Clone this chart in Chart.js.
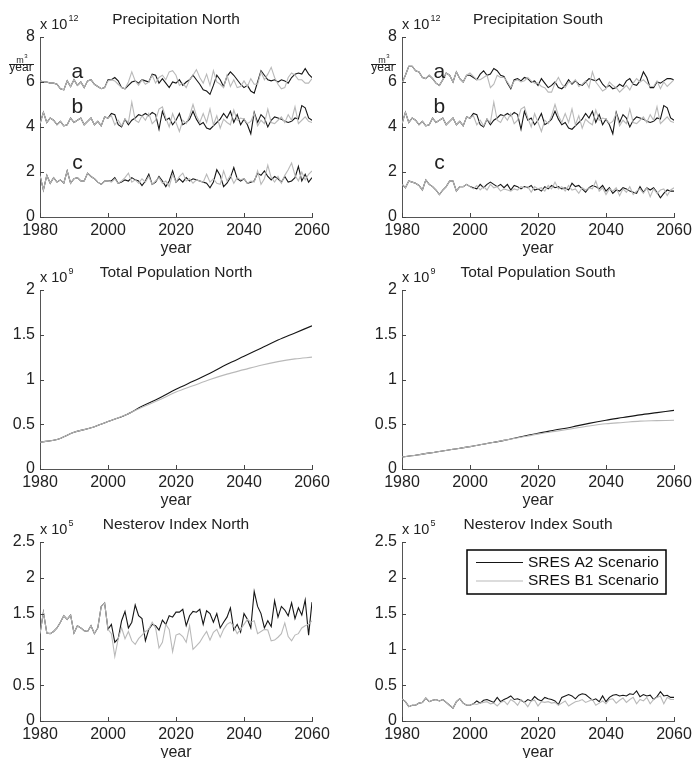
<!DOCTYPE html>
<html>
<head>
<meta charset="utf-8">
<script src="https://cdn.jsdelivr.net/npm/chart.js@4.4.1/dist/chart.umd.min.js"></script>
<style>
  html, body { margin: 0; padding: 0; background: #fff; overflow: hidden; }
  #fig { position: relative; width: 692px; height: 758px; overflow: hidden; }
  #fig canvas { position: absolute; }
</style>
</head>
<body>
<div id="fig"></div>
<script>
// ---- data (values in units of the axis multiplier: 1e12, 1e9, 1e5) ----
const years = [];
for (let y = 1980; y <= 2060; y++) years.push(y);
const popYears = [1980, 1985, 1990, 1995, 2000, 2005, 2010, 2015, 2020, 2025, 2030, 2035, 2040, 2045, 2050, 2055, 2060];

// precipitation, B1 = 1980..2060, A2 = 2000..2060 (A2 shares the B1 history before 2000)
const precipNorthA_B1 = [6.05,6.0,6.0,5.95,5.95,5.9,5.7,5.65,6.05,5.8,6.1,5.85,6.0,5.75,6.05,6.1,5.9,5.8,5.7,5.75,
  6.05,6.1,6.05,5.9,5.75,5.7,6.0,6.45,6.05,5.85,6.1,5.9,6.0,6.3,5.95,6.2,6.3,6.1,6.45,6.5,
  6.3,5.85,5.95,5.75,6.1,6.3,6.55,6.2,5.95,6.35,5.85,6.5,6.0,5.9,5.75,6.3,5.8,6.1,5.75,5.8,
  6.05,5.8,6.15,5.9,5.9,6.45,6.1,6.35,6.65,6.2,5.9,5.7,5.75,6.2,6.4,6.3,6.1,6.1,5.95,5.95,6.15];
const precipNorthA_A2 = [6.1,6.1,6.2,6.05,5.75,5.7,5.85,6.0,6.05,5.95,6.1,6.05,6.0,6.35,6.3,5.95,6.15,5.95,5.75,6.0,
  5.95,6.1,5.85,6.0,6.1,6.3,6.1,5.9,5.65,5.6,5.45,5.85,6.3,6.1,5.8,6.25,6.45,6.3,6.1,5.9,
  5.75,5.85,5.6,5.5,6.0,6.5,6.3,6.1,6.05,6.1,6.0,6.1,6.05,5.95,6.2,6.35,6.4,6.35,6.6,6.35,6.2];
const precipB_B1 = [4.15,4.65,4.2,4.4,4.3,4.1,4.25,4.05,4.1,4.4,4.2,4.3,4.4,4.1,4.25,4.4,4.1,4.25,4.05,4.45,
  4.4,4.5,4.1,4.3,4.05,4.35,4.2,5.1,4.3,4.2,4.5,4.3,4.6,4.15,4.3,4.8,4.9,4.4,4.0,4.6,
  4.2,3.8,4.3,4.15,4.5,5.0,4.5,4.2,4.6,4.2,4.8,4.1,4.5,3.95,4.35,4.2,4.1,4.75,4.3,4.4,
  4.35,4.15,4.25,4.6,4.05,4.3,4.15,4.8,4.2,4.15,4.3,4.45,4.2,4.55,4.3,4.9,4.15,4.3,4.45,4.25,4.2];
const precipB_A2 = [4.4,4.6,4.55,4.1,4.0,4.35,4.1,4.3,4.4,4.55,4.5,4.6,4.5,4.65,4.55,3.9,4.7,4.3,4.4,4.1,
  4.3,4.6,4.1,4.2,4.35,4.7,4.35,4.1,4.2,3.95,3.9,4.05,4.2,4.35,4.6,4.4,4.7,4.2,4.55,4.1,
  4.35,4.1,3.7,4.65,4.2,4.55,4.4,4.0,4.3,4.45,4.4,4.35,4.25,4.2,4.25,4.4,4.35,4.95,4.85,4.4,4.3];
const precipNorthC_B1 = [1.85,1.2,1.85,1.5,1.75,1.55,1.65,1.5,2.05,1.5,1.7,1.75,1.6,1.6,1.95,1.8,1.7,1.55,1.45,1.6,
  1.6,1.55,1.7,1.5,1.6,1.75,1.95,1.55,1.65,1.5,1.7,1.55,1.8,1.45,1.6,1.75,1.5,1.6,1.35,1.9,
  1.55,1.8,1.95,1.6,1.7,1.5,1.65,1.6,1.55,1.9,1.55,1.7,1.5,1.45,2.05,1.6,1.85,1.5,1.75,1.65,
  1.7,1.5,1.6,1.55,2.05,1.45,1.7,2.3,1.75,1.55,1.8,1.5,1.85,2.1,2.4,1.85,1.6,2.0,1.65,1.9,2.05];
const precipNorthC_A2 = [1.6,1.6,1.75,1.5,1.55,1.65,1.6,1.75,1.65,1.6,1.4,1.6,1.9,1.45,1.55,1.8,1.6,1.35,1.6,2.05,
  1.55,1.7,1.55,1.75,1.6,1.7,1.65,1.6,1.55,1.5,1.3,1.55,2.1,1.85,1.35,1.5,1.75,2.2,1.7,1.6,
  1.7,1.5,1.55,1.6,1.95,1.85,2.05,1.8,1.65,1.8,1.7,1.55,1.8,1.55,1.6,1.75,2.25,1.6,1.9,1.55,1.75];
const precipSouthA_B1 = [5.95,6.3,6.7,6.7,6.5,6.45,6.2,6.15,6.3,6.15,5.95,5.85,6.1,6.4,6.3,6.0,6.45,6.15,6.0,6.3,
  6.4,6.25,6.1,6.1,6.2,6.3,5.75,5.9,6.3,6.2,6.2,6.0,5.75,6.05,6.1,6.0,6.05,6.2,6.05,5.95,
  5.95,5.8,5.75,5.55,5.55,5.95,6.2,5.9,5.75,6.0,5.95,6.1,5.8,5.9,6.05,5.75,6.45,6.0,5.8,5.6,
  5.7,6.0,5.85,5.75,5.55,5.7,5.85,5.65,5.95,6.15,6.0,6.1,5.95,5.8,5.8,6.05,5.7,6.0,5.8,5.95,6.1];
const precipSouthA_A2 = [6.3,6.2,6.1,6.35,6.5,6.3,6.35,6.6,6.5,6.3,6.25,5.95,5.7,6.1,6.15,6.05,6.2,6.15,6.0,6.05,
  5.85,6.15,5.95,5.75,5.85,6.0,5.75,5.7,5.85,6.1,5.9,6.05,5.9,5.85,6.0,6.15,6.1,6.05,6.15,5.9,
  5.75,5.85,5.7,5.75,5.9,5.8,6.05,6.15,5.9,5.85,6.05,6.45,6.2,5.75,5.75,6.0,5.95,6.05,6.15,6.15,6.1];
const precipSouthC_B1 = [1.45,1.3,1.6,1.55,1.5,1.4,1.2,1.65,1.45,1.35,1.2,1.0,1.2,1.35,1.6,1.6,1.15,1.35,1.35,1.45,
  1.35,1.25,1.4,1.2,1.35,1.2,1.45,1.3,1.35,1.15,1.25,1.2,1.15,1.25,1.2,1.35,1.3,1.35,1.1,1.35,
  1.25,1.3,1.15,1.4,1.25,1.55,1.25,1.35,1.15,1.4,1.2,1.25,1.05,1.3,1.2,1.3,1.25,1.6,1.15,1.3,
  1.0,1.25,1.15,1.3,0.95,1.25,1.1,1.35,1.0,1.15,1.25,1.05,1.3,0.9,1.25,1.05,1.2,1.25,0.95,1.2,1.3];
const precipSouthC_A2 = [1.35,1.3,1.25,1.45,1.3,1.45,1.55,1.45,1.35,1.45,1.3,1.45,1.2,1.4,1.35,1.25,1.35,1.3,1.4,1.2,
  1.25,1.15,1.35,1.25,1.4,1.3,1.35,1.25,1.3,1.2,1.5,1.35,1.4,1.25,1.1,1.3,1.4,1.35,1.25,1.4,
  1.15,1.3,1.05,1.2,1.15,1.3,1.25,1.15,1.1,1.05,1.35,1.1,1.3,1.2,1.3,1.1,0.85,1.05,1.2,1.15,1.15];

// total population, every 5 years
const popNorthA2 = [0.30,0.33,0.41,0.46,0.53,0.60,0.70,0.79,0.89,0.98,1.07,1.17,1.26,1.35,1.44,1.52,1.60];
const popNorthB1 = [0.30,0.33,0.41,0.46,0.53,0.60,0.69,0.77,0.86,0.93,1.00,1.06,1.11,1.16,1.20,1.23,1.25];
const popSouthA2 = [0.135,0.16,0.19,0.22,0.25,0.285,0.32,0.36,0.40,0.435,0.47,0.51,0.545,0.575,0.605,0.63,0.655];
const popSouthB1 = [0.135,0.16,0.19,0.22,0.25,0.285,0.32,0.355,0.39,0.42,0.45,0.48,0.505,0.52,0.535,0.54,0.545];

// Nesterov index
const nestNorth_B1 = [1.22,1.52,1.23,1.22,1.25,1.3,1.38,1.47,1.42,1.48,1.23,1.33,1.3,1.26,1.25,1.33,1.22,1.3,1.6,1.65,
  1.28,1.22,0.9,1.15,1.3,1.15,1.25,1.12,1.07,1.15,1.2,1.25,1.28,1.38,1.3,1.02,1.1,1.35,1.28,0.97,
  1.2,1.22,1.18,1.1,1.33,1.0,1.05,1.1,1.18,1.25,1.13,1.24,1.28,1.17,1.28,1.35,1.38,1.32,1.22,1.28,
  1.35,1.42,1.38,1.4,1.22,1.25,1.28,1.27,1.12,1.13,1.17,1.22,1.37,1.18,1.12,1.2,1.22,1.3,1.33,1.35,1.4];
const nestNorth_A2 = [1.28,1.35,1.1,1.15,1.4,1.53,1.3,1.38,1.62,1.47,1.43,1.12,1.28,1.35,1.33,1.27,1.41,1.35,1.47,1.45,
  1.52,1.52,1.56,1.33,1.47,1.53,1.52,1.56,1.35,1.54,1.5,1.38,1.5,1.3,1.38,1.45,1.58,1.27,1.35,1.24,
  1.5,1.42,1.3,1.81,1.6,1.5,1.3,1.4,1.32,1.68,1.45,1.6,1.55,1.47,1.65,1.43,1.58,1.48,1.69,1.2,1.66];
const nestSouth_B1 = [0.31,0.27,0.2,0.22,0.22,0.25,0.26,0.32,0.27,0.29,0.3,0.28,0.3,0.26,0.22,0.18,0.27,0.31,0.25,0.22,
  0.22,0.24,0.23,0.25,0.26,0.27,0.24,0.25,0.21,0.26,0.28,0.23,0.3,0.27,0.22,0.3,0.26,0.2,0.28,0.29,
  0.21,0.27,0.26,0.27,0.25,0.26,0.22,0.25,0.28,0.21,0.24,0.27,0.28,0.3,0.26,0.28,0.3,0.22,0.25,0.28,
  0.24,0.3,0.31,0.25,0.29,0.32,0.26,0.3,0.33,0.24,0.3,0.28,0.33,0.24,0.3,0.33,0.35,0.24,0.33,0.3,0.3];
const nestSouth_A2 = [0.22,0.24,0.28,0.25,0.29,0.3,0.28,0.26,0.33,0.27,0.3,0.32,0.35,0.3,0.31,0.29,0.26,0.3,0.28,0.34,
  0.3,0.28,0.33,0.31,0.3,0.28,0.23,0.33,0.35,0.37,0.35,0.31,0.36,0.38,0.37,0.33,0.29,0.31,0.27,0.35,
  0.27,0.33,0.36,0.37,0.35,0.36,0.35,0.38,0.37,0.42,0.34,0.37,0.35,0.36,0.3,0.34,0.41,0.35,0.36,0.33,0.33];

const xTicks = [1980, 2000, 2020, 2040, 2060];
const seriesLabels = ['SRES A2 Scenario', 'SRES B1 Scenario'];

// ---- styling ----
const FONT = "'Liberation Sans', Arial, Helvetica, sans-serif";
Chart.defaults.font.family = FONT;
Chart.defaults.color = '#222';
const A2_COLOR = '#151515';
const B1_COLOR = '#b9b9b9';

const pts = (xs, vals) => vals.map((v, i) => ({x: xs[i], y: v}));
const withHistory = (b1, a2) => b1.slice(0, 20).concat(a2);

function annualPair(b1, a2) {
  return [
    {label: seriesLabels[0], data: pts(years, withHistory(b1, a2)), borderColor: A2_COLOR, order: 1},
    {label: seriesLabels[1], data: pts(years, b1), borderColor: B1_COLOR, order: 0}
  ];
}
function smoothPair(a2, b1) {
  return [
    {label: seriesLabels[0], data: pts(popYears, a2), borderColor: A2_COLOR, order: 1, cubicInterpolationMode: 'monotone'},
    {label: seriesLabels[1], data: pts(popYears, b1), borderColor: B1_COLOR, order: 0, cubicInterpolationMode: 'monotone'}
  ];
}

// canvas placement; the right column canvas runs past the page edge so "2060" does not squeeze the plot
const COLS = [{left: 0, width: 346, axisW: 40, padR: 34}, {left: 346, width: 370, axisW: 56, padR: 42}];
const ROWS = [{top: 37, bottom: 217}, {top: 290, bottom: 469}, {top: 542, bottom: 721}];
const TITLE_H = 37, XAXIS_H = 43;

const panels = [
  {title: 'Precipitation North', col: 0, row: 0, yMax: 8, yStep: 2, exp: '12', unit: true, letters: true,
   sets: [...annualPair(precipNorthA_B1, precipNorthA_A2), ...annualPair(precipB_B1, precipB_A2), ...annualPair(precipNorthC_B1, precipNorthC_A2)]},
  {title: 'Precipitation South', col: 1, row: 0, yMax: 8, yStep: 2, exp: '12', unit: true, letters: true,
   sets: [...annualPair(precipSouthA_B1, precipSouthA_A2), ...annualPair(precipB_B1, precipB_A2), ...annualPair(precipSouthC_B1, precipSouthC_A2)]},
  {title: 'Total Population North', col: 0, row: 1, yMax: 2, yStep: 0.5, exp: '9', sets: smoothPair(popNorthA2, popNorthB1)},
  {title: 'Total Population South', col: 1, row: 1, yMax: 2, yStep: 0.5, exp: '9', sets: smoothPair(popSouthA2, popSouthB1)},
  {title: 'Nesterov Index North', col: 0, row: 2, yMax: 2.5, yStep: 0.5, exp: '5', sets: annualPair(nestNorth_B1, nestNorth_A2)},
  {title: 'Nesterov Index South', col: 1, row: 2, yMax: 2.5, yStep: 0.5, exp: '5', legend: true, sets: annualPair(nestSouth_B1, nestSouth_A2)}
];

// ticks pointing into the plot, MATLAB style
const inwardTicks = {
  id: 'inwardTicks',
  afterDatasetsDraw(chart) {
    const {ctx, chartArea: a, scales: {x, y}} = chart;
    ctx.save();
    ctx.strokeStyle = '#444';
    ctx.lineWidth = 1;
    ctx.beginPath();
    x.ticks.forEach(t => {
      const px = Math.round(x.getPixelForValue(t.value)) + 0.5;
      ctx.moveTo(px, a.bottom); ctx.lineTo(px, a.bottom - 4);
    });
    y.ticks.forEach(t => {
      const py = Math.round(y.getPixelForValue(t.value)) + 0.5;
      ctx.moveTo(a.left, py); ctx.lineTo(a.left + 4, py);
    });
    ctx.stroke();
    ctx.restore();
  }
};

// exponent, unit fraction, a/b/c labels and the legend box
const figExtras = {
  id: 'figExtras',
  afterDraw(chart, args, opts) {
    const {ctx, chartArea: a, scales: {x, y}} = chart;
    ctx.save();
    ctx.fillStyle = '#222';
    ctx.textAlign = 'left';
    ctx.textBaseline = 'alphabetic';
    if (opts.exp) {
      ctx.font = '14.5px ' + FONT;
      ctx.fillText('x 10', a.left, a.top - 8.5);
      const w = ctx.measureText('x 10').width;
      ctx.font = '9px ' + FONT;
      ctx.fillText(opts.exp, a.left + w + 1, a.top - 16.5);
    }
    if (opts.unit) {
      const cx = a.left - 19;
      ctx.textAlign = 'center';
      ctx.font = '9px ' + FONT;
      ctx.fillText('m', cx - 1, a.top + 25.5);
      ctx.font = '6px ' + FONT;
      ctx.fillText('3', cx + 5, a.top + 21);
      ctx.font = '12px ' + FONT;
      ctx.fillText('year', cx, a.top + 34);
      ctx.strokeStyle = '#222';
      ctx.lineWidth = 1;
      ctx.beginPath();
      ctx.moveTo(a.left - 31, a.top + 27.5);
      ctx.lineTo(a.left - 6, a.top + 27.5);
      ctx.stroke();
    }
    if (opts.letters) {
      ctx.font = '21px ' + FONT;
      ctx.textAlign = 'center';
      ctx.textBaseline = 'middle';
      opts.letters.forEach(l => ctx.fillText(l.t, x.getPixelForValue(l.x), y.getPixelForValue(l.y)));
    }
    if (opts.legend) {
      const w = 199, h = 44;
      const bx = a.right - 8 - w, by = a.top + 8;
      ctx.fillStyle = '#fff';
      ctx.fillRect(bx, by, w, h);
      ctx.strokeStyle = '#000';
      ctx.lineWidth = 1.5;
      ctx.strokeRect(bx, by, w, h);
      ctx.font = '15.5px ' + FONT;
      ctx.textAlign = 'left';
      ctx.textBaseline = 'middle';
      chart.data.datasets.forEach((ds, i) => {
        const ly = by + 12.5 + i * 18.5;
        ctx.strokeStyle = ds.borderColor;
        ctx.lineWidth = 1.1;
        ctx.beginPath();
        ctx.moveTo(bx + 9, ly); ctx.lineTo(bx + 56, ly);
        ctx.stroke();
        ctx.fillStyle = '#111';
        ctx.fillText(ds.label, bx + 61, ly);
      });
    }
    ctx.restore();
  }
};

const fig = document.getElementById('fig');
panels.forEach(p => {
  const col = COLS[p.col], row = ROWS[p.row];
  const top = row.top - TITLE_H;
  const height = row.bottom + XAXIS_H - top;
  const canvas = document.createElement('canvas');
  canvas.width = col.width;
  canvas.height = height;
  canvas.style.left = col.left + 'px';
  canvas.style.top = top + 'px';
  fig.appendChild(canvas);

  new Chart(canvas.getContext('2d'), {
    type: 'line',
    data: {
      datasets: p.sets.map(s => Object.assign({
        borderWidth: 1.1,
        pointRadius: 0,
        fill: false,
        tension: 0
      }, s))
    },
    options: {
      responsive: false,
      animation: false,
      events: [],
      layout: {padding: {left: 0, right: col.padR, top: 0, bottom: 0}},
      plugins: {
        legend: {display: false},
        tooltip: {enabled: false},
        title: {
          display: true,
          text: p.title,
          fullSize: false,
          color: '#222',
          font: {size: 15.5, weight: 'normal', lineHeight: 1.2},
          padding: {top: 10, bottom: 8.4}
        },
        figExtras: {
          exp: p.exp,
          unit: p.unit,
          letters: p.letters ? [{t: 'a', x: 1991, y: 6.43}, {t: 'b', x: 1991, y: 4.89}, {t: 'c', x: 1991, y: 2.39}] : null,
          legend: p.legend
        }
      },
      scales: {
        x: {
          type: 'linear',
          min: 1980,
          max: 2060,
          afterFit(scale) { scale.height = XAXIS_H; },
          afterBuildTicks(scale) { scale.ticks = xTicks.map(v => ({value: v})); },
          ticks: {
            callback: v => String(v),
            font: {size: 16},
            color: '#222',
            padding: 4,
            maxRotation: 0,
            autoSkip: false
          },
          grid: {display: false, drawTicks: false},
          border: {display: true, color: '#555', width: 1},
          title: {display: true, text: 'year', color: '#222', font: {size: 16}, padding: {top: 0, bottom: 2}}
        },
        y: {
          min: 0,
          max: p.yMax,
          afterFit(scale) { scale.width = col.axisW; },
          ticks: {
            stepSize: p.yStep,
            callback: v => String(Math.round(v * 100) / 100),
            font: {size: 16},
            color: '#222',
            padding: 5
          },
          grid: {display: false, drawTicks: false},
          border: {display: true, color: '#555', width: 1}
        }
      }
    },
    plugins: [inwardTicks, figExtras]
  });
});
</script>
</body>
</html>
